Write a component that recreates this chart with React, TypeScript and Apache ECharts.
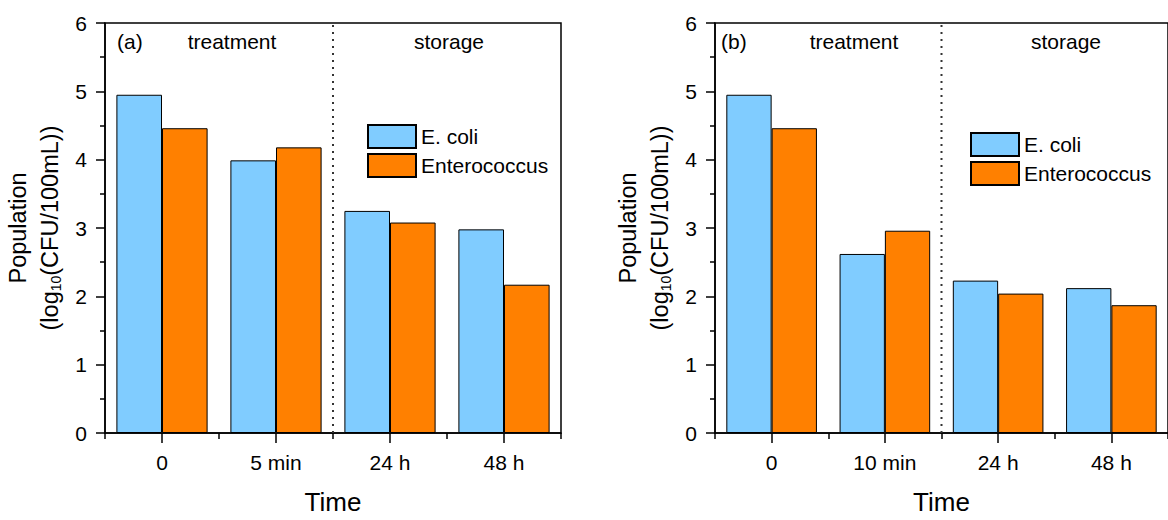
import React, { useEffect, useRef } from "react";
import * as echarts from "echarts";

const categoriesA = ["0", "5 min", "24 h", "48 h"];
const categoriesB = ["0", "10 min", "24 h", "48 h"];
const ecoliA = [4.95, 3.99, 3.25, 2.98];
const enteroA = [4.46, 4.18, 3.08, 2.17];
const ecoliB = [4.95, 2.62, 2.23, 2.12];
const enteroB = [4.46, 2.96, 2.04, 1.87];
const yTicks = { min: 0, max: 6, interval: 1 };
const dividerLine = [
  [2, 0],
  [2, 6],
];
const seriesNames = ["E. coli", "Enterococcus"];

const FONT = "Liberation Sans, Arial, Helvetica, sans-serif";
const BLUE = "#80CCFF";
const ORANGE = "#FF8000";

function yAxisFor(gridIndex: number) {
  return {
    type: "value",
    gridIndex,
    min: yTicks.min,
    max: yTicks.max,
    interval: yTicks.interval,
    name: "{a|Population}\n{a|(log}{s|10}{a|(CFU/100mL))}",
    nameLocation: "middle",
    nameGap: 39,
    nameTextStyle: {
      fontFamily: FONT,
      color: "#000",
      rich: {
        a: { fontSize: 23.5, lineHeight: 32, fontFamily: FONT, color: "#000" },
        s: {
          fontSize: 14,
          lineHeight: 14,
          fontFamily: FONT,
          color: "#000",
          verticalAlign: "bottom",
          padding: [0, 0, 3, 0],
        },
      },
    },
    axisLine: { show: true, lineStyle: { color: "#000", width: 1.5 } },
    axisTick: { show: true, length: 9, lineStyle: { color: "#000", width: 1.5 } },
    minorTick: { show: true, splitNumber: 2, length: 5, lineStyle: { color: "#000", width: 1.5 } },
    splitLine: { show: false },
    axisLabel: { fontSize: 21, color: "#000", fontFamily: FONT, margin: 18 },
  };
}

function catAxisFor(gridIndex: number, data: string[]) {
  return {
    type: "category",
    gridIndex,
    data,
    position: "bottom",
    name: "Time",
    nameLocation: "middle",
    nameGap: 56,
    nameTextStyle: { fontSize: 26, color: "#000", fontFamily: FONT },
    axisLine: { show: true, lineStyle: { color: "#000", width: 1.5 } },
    axisTick: { show: true, alignWithLabel: true, length: 10, lineStyle: { color: "#000", width: 1.5 } },
    axisLabel: { fontSize: 21, color: "#000", fontFamily: FONT, margin: 19 },
    splitLine: { show: false },
  };
}

function boundaryAxisFor(gridIndex: number) {
  return {
    type: "value",
    gridIndex,
    position: "bottom",
    min: 0,
    max: 4,
    interval: 1,
    axisLine: { show: false },
    axisTick: { show: true, length: 6, lineStyle: { color: "#000", width: 1.5 } },
    axisLabel: { show: false },
    splitLine: { show: false },
  };
}

function barSeries(name: string, data: number[], color: string, xi: number, yi: number) {
  return {
    name,
    type: "bar",
    xAxisIndex: xi,
    yAxisIndex: yi,
    data,
    barWidth: "40%",
    barGap: "0%",
    itemStyle: { color, borderColor: "#000", borderWidth: 1 },
  };
}

function dividerSeries(xi: number, yi: number) {
  return {
    type: "line",
    xAxisIndex: xi,
    yAxisIndex: yi,
    data: dividerLine,
    symbol: "none",
    silent: true,
    lineStyle: { color: "#333", width: 2, type: [2, 5] },
  };
}

function label(text: string, x: number, y: number, align: string) {
  return {
    type: "text",
    x,
    y,
    silent: true,
    style: {
      text,
      fontSize: 21,
      fontFamily: FONT,
      fill: "#000",
      align,
      verticalAlign: "middle",
    },
  };
}

function legendAt(left: number, top: number) {
  return {
    data: seriesNames,
    orient: "vertical",
    left,
    top,
    padding: 0,
    itemWidth: 48,
    itemHeight: 23,
    itemGap: 4,
    icon: "rect",
    selectedMode: false,
    textStyle: { fontSize: 21, color: "#000", fontFamily: FONT },
  };
}

export default function App() {
  const ref = useRef<HTMLDivElement>(null);
  useEffect(() => {
    if (!ref.current) return;
    const chart = echarts.init(ref.current, undefined, { renderer: "svg" });
    const option: any = {
      animation: false,
      textStyle: { fontFamily: FONT },
      grid: [
        { left: 105, right: 607, top: 23, bottom: 86, show: true, borderColor: "#000", borderWidth: 1.5 },
        { left: 715, right: -3, top: 23, bottom: 86, show: true, borderColor: "#000", borderWidth: 1.5 },
      ],
      xAxis: [
        catAxisFor(0, categoriesA),
        boundaryAxisFor(0),
        catAxisFor(1, categoriesB),
        boundaryAxisFor(1),
      ],
      yAxis: [yAxisFor(0), yAxisFor(1)],
      legend: [legendAt(367, 124), legendAt(970, 132)],
      series: [
        barSeries(seriesNames[0], ecoliA, BLUE, 0, 0),
        barSeries(seriesNames[1], enteroA, ORANGE, 0, 0),
        dividerSeries(1, 0),
        barSeries(seriesNames[0], ecoliB, BLUE, 2, 1),
        barSeries(seriesNames[1], enteroB, ORANGE, 2, 1),
        dividerSeries(3, 1),
      ],
      graphic: [
        label("(a)", 117, 41, "left"),
        label("treatment", 232, 41, "center"),
        label("storage", 449, 41, "center"),
        label("(b)", 721, 41, "left"),
        label("treatment", 854, 41, "center"),
        label("storage", 1066, 41, "center"),
      ],
    };
    chart.setOption(option);
    return () => chart.dispose();
  }, []);
  return (
    <div
      ref={ref}
      style={{ position: "fixed", left: 0, top: 0, width: 1168, height: 520, background: "#fff" }}
    />
  );
}
